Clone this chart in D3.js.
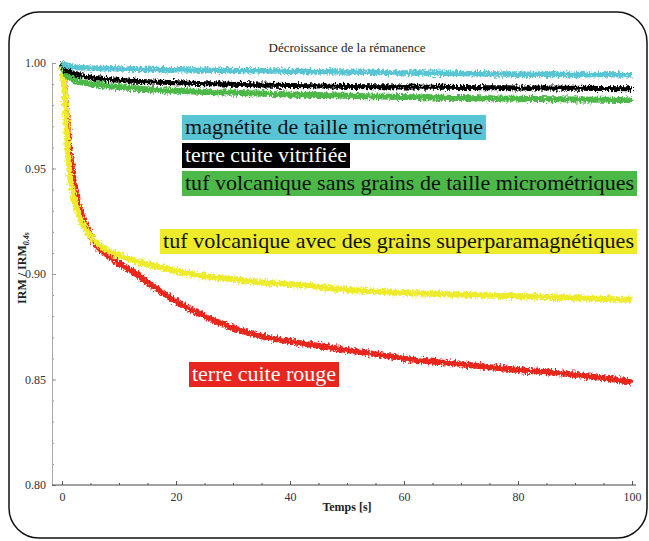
<!DOCTYPE html>
<html>
<head>
<meta charset="utf-8">
<script src="https://cdn.jsdelivr.net/npm/d3@7"></script>
<style>
  body { margin: 0; background: #fff; }
  svg { display: block; }
  svg text { font-family: 'Liberation Serif', 'DejaVu Serif', 'Noto Serif', serif !important; }
</style>
</head>
<body>
<div class="chart"></div>
<script>
// time in seconds, shared by all series
var time = [0, 0.25, 0.5, 0.75, 1, 1.5, 2, 3, 4, 5, 6, 8, 10, 13, 16, 20, 25, 30, 35, 40, 50, 60, 70, 80, 90, 100];

// IRM / IRM0.4s
var magnetite = [1.000, 0.9995, 0.9990, 0.9988, 0.9985, 0.9983, 0.9980, 0.9978, 0.9977, 0.9976, 0.9975, 0.9973, 0.9972, 0.9970, 0.9969, 0.9968, 0.9966, 0.9965, 0.9963, 0.9961, 0.9957, 0.9953, 0.9950, 0.9947, 0.9945, 0.9944];
var vitrifiee = [1.000, 0.9985, 0.9975, 0.9968, 0.9962, 0.9955, 0.9950, 0.9942, 0.9936, 0.9931, 0.9927, 0.9922, 0.9918, 0.9913, 0.9910, 0.9906, 0.9902, 0.9899, 0.9896, 0.9893, 0.9889, 0.9886, 0.9884, 0.9882, 0.9880, 0.9878];
var tufSans = [1.000, 0.9970, 0.9955, 0.9945, 0.9937, 0.9928, 0.9920, 0.9912, 0.9906, 0.9902, 0.9898, 0.9891, 0.9886, 0.9879, 0.9873, 0.9868, 0.9863, 0.9859, 0.9855, 0.9851, 0.9845, 0.9839, 0.9834, 0.9830, 0.9827, 0.9824];
var tufAvec = [1.000, 0.993, 0.985, 0.972, 0.959, 0.945, 0.937, 0.928, 0.922, 0.918, 0.915, 0.911, 0.909, 0.906, 0.904, 0.9015, 0.899, 0.8975, 0.896, 0.8952, 0.8925, 0.891, 0.8902, 0.8895, 0.8887, 0.8877];
var rouge = [1.000, 0.995, 0.987, 0.977, 0.968, 0.955, 0.945, 0.932, 0.924, 0.9185, 0.9135, 0.909, 0.905, 0.900, 0.894, 0.887, 0.880, 0.8745, 0.8705, 0.868, 0.864, 0.860, 0.8572, 0.8545, 0.8523, 0.849];

var labels = [
  'magnétite de taille micrométrique',
  'terre cuite vitrifiée',
  'tuf volcanique sans grains de taille micrométriques',
  'tuf volcanique avec des grains superparamagnétiques',
  'terre cuite rouge'
];

var xTicks = [0, 20, 40, 60, 80, 100];
var yTicks = [0.80, 0.85, 0.90, 0.95, 1.00];

(function draw() {

  'use strict';

  var width = 649;
  var height = 541;

  var colors = ['#58c5d5', '#000000', '#4cb847', '#eeeb2a', '#e8251f'];
  var textColors = ['#111', '#fff', '#111', '#111', '#fff'];
  var series = [magnetite, vitrifiee, tufSans, tufAvec, rouge];

  // legend boxes: left, top, width
  var boxes = [
    [182, 115, 304],
    [182, 143, 168],
    [182, 171, 455],
    [160, 229, 477],
    [189, 362, 150]
  ];

  var x = d3.scaleLinear().domain([0, 100]).range([62, 632]);
  var y = d3.scaleLinear().domain([0.80, 1.00]).range([485, 63]);

  var svg = d3.select('.chart').append('svg')
    .attr('width', width)
    .attr('height', height);

  var defs = svg.append('defs');
  var filter = defs.append('filter')
    .attr('id', 'rough')
    .attr('filterUnits', 'userSpaceOnUse')
    .attr('x', 0).attr('y', 0)
    .attr('width', width).attr('height', height);
  filter.append('feTurbulence')
    .attr('type', 'fractalNoise')
    .attr('baseFrequency', '0.6 0.35')
    .attr('numOctaves', 2)
    .attr('seed', 3)
    .attr('result', 'n');
  filter.append('feDisplacementMap')
    .attr('in', 'SourceGraphic')
    .attr('in2', 'n')
    .attr('scale', 7)
    .attr('xChannelSelector', 'R')
    .attr('yChannelSelector', 'G');

  // rounded frame
  svg.append('rect')
    .attr('x', 9).attr('y', 12)
    .attr('width', 638).attr('height', 526)
    .attr('rx', 30).attr('ry', 30)
    .attr('fill', 'none')
    .attr('stroke', '#111')
    .attr('stroke-width', 1.5);

  // axes
  var yAxis = svg.append('g')
    .attr('transform', 'translate(52,0)')
    .call(d3.axisLeft(y).tickValues(yTicks).tickFormat(d3.format('.2f')).tickSizeInner(-4).tickSizeOuter(0).tickPadding(6));
  yAxis.select('.domain').attr('stroke', '#aaa');
  yAxis.selectAll('line').attr('stroke', '#999');
  yAxis.selectAll('text').attr('fill', '#333').style('font-size', '12px');

  svg.append('g')
    .attr('transform', 'translate(52,0)')
    .call(d3.axisLeft(y).ticks(20).tickFormat('').tickSizeInner(-2).tickSizeOuter(0))
    .call(function (g) { g.select('.domain').remove(); })
    .selectAll('line').attr('stroke', '#999');

  var xAxis = svg.append('g')
    .attr('transform', 'translate(0,485)')
    .call(d3.axisBottom(x).tickValues(xTicks).tickSizeInner(-4).tickSizeOuter(0).tickPadding(7));
  xAxis.select('.domain').remove();
  xAxis.selectAll('line').attr('stroke', '#555');
  xAxis.selectAll('text').attr('fill', '#333').style('font-size', '12px');

  svg.append('g')
    .attr('transform', 'translate(0,485)')
    .call(d3.axisBottom(x).ticks(20).tickFormat('').tickSizeInner(-2).tickSizeOuter(0))
    .call(function (g) { g.select('.domain').remove(); })
    .selectAll('line').attr('stroke', '#555');

  svg.append('line')
    .attr('x1', 52).attr('x2', x(100.7))
    .attr('y1', 485).attr('y2', 485)
    .attr('stroke', '#444');

  // titles
  svg.append('text')
    .attr('x', 347).attr('y', 52)
    .attr('text-anchor', 'middle')
    .style('font-size', '13px')
    .attr('fill', '#222')
    .text('Décroissance de la rémanence');

  svg.append('text')
    .attr('x', 347).attr('y', 511)
    .attr('text-anchor', 'middle')
    .style('font-size', '12px')
    .style('font-weight', 'bold')
    .attr('fill', '#222')
    .text('Temps [s]');

  var yLabel = svg.append('text')
    .attr('transform', 'translate(26,268) rotate(-90)')
    .attr('text-anchor', 'middle')
    .style('font-size', '12px')
    .style('font-weight', 'bold')
    .attr('fill', '#222');
  yLabel.append('tspan').text('IRM / IRM');
  yLabel.append('tspan')
    .attr('dy', 3)
    .style('font-size', '8px')
    .style('font-style', 'italic')
    .text('0.4s');

  // curves, red under yellow
  var line = d3.line()
    .x(function (d, i) { return x(time[i]); })
    .y(function (d) { return y(d); })
    .curve(d3.curveMonotoneX);

  var widths = [5.5, 5, 6, 6, 6];
  var order = [4, 3, 2, 1, 0];
  svg.append('g')
    .attr('filter', 'url(#rough)')
    .selectAll('path')
    .data(order)
    .enter()
    .append('path')
      .attr('d', function (k) { return line(series[k]); })
      .attr('fill', 'none')
      .attr('stroke', function (k) { return colors[k]; })
      .attr('stroke-width', function (k) { return widths[k]; })
      .attr('stroke-linejoin', 'round');

  // legend labels
  var legend = svg.selectAll('.legend')
      .data(labels)
      .enter()
    .append('g')
      .attr('class', 'legend')
      .attr('transform', function (d, i) {
        return 'translate(' + boxes[i][0] + ',' + boxes[i][1] + ')';
      });

  legend.append('rect')
    .attr('width', function (d, i) { return boxes[i][2]; })
    .attr('height', 25)
    .attr('fill', function (d, i) { return colors[i]; });

  legend.append('text')
    .attr('x', 3)
    .attr('y', 19)
    .attr('textLength', function (d, i) { return boxes[i][2] - 6; })
    .attr('lengthAdjust', 'spacingAndGlyphs')
    .style('font-size', '21px')
    .attr('fill', function (d, i) { return textColors[i]; })
    .text(function (d) { return d; });
})();
</script>
</body>
</html>
